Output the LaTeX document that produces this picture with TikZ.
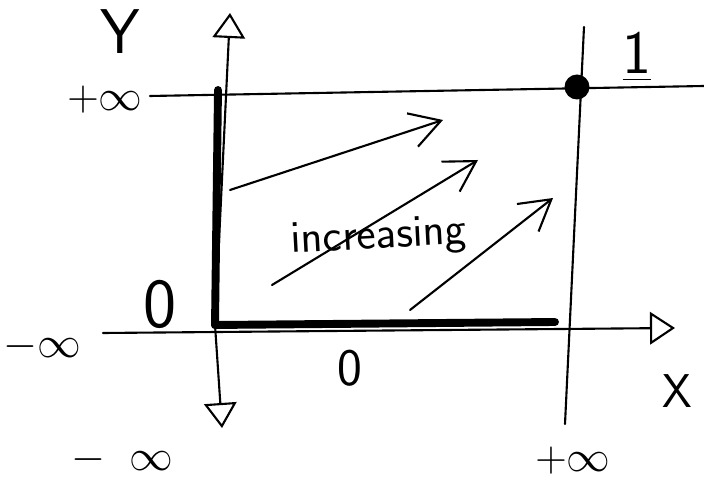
\documentclass[tikz,border=0pt]{standalone}
\usepackage{amsmath}
\usepackage{xcolor}
\usepackage{tikz}
\usetikzlibrary{arrows.meta,positioning}

\begin{document}
\begin{tikzpicture}[
        x=0.02cm, y=-0.02cm,
        pen/.style={draw=black, line width=1.2pt, line cap=round},
        heavy/.style={draw=black, line width=4.5pt, line cap=round},
        axis/.style={pen, -{Triangle[open,length=5mm,width=6.5mm,line width=1.2pt]}},
        trend/.style={pen, -{Straight Barb[length=6mm,width=7mm,line width=1.2pt]}},
        lbl/.style={inner sep=0pt, font=\sffamily}
      ]
        \useasboundingbox (0,0) rectangle (704,482);

        % axes and limits
        \coordinate (origin) at (215,325);
        \coordinate (ytop) at (230,13);
        \coordinate (ybot) at (222,428);
        \coordinate (xleft) at (103,333);
        \coordinate (xright) at (675,328);
        \coordinate (tleft) at (150,96);
        \coordinate (tright) at (704,86);
        \coordinate (rtop) at (584,27);
        \coordinate (rbot) at (565,424);
        \coordinate (corner) at (218,90);
        \coordinate (bend) at (555,322);

        \draw[axis] (origin) -- (ytop);
        \draw[axis] (origin) -- (ybot);
        \draw[axis] (xleft) -- (xright);
        \draw[pen] (tleft) -- (tright);
        \draw[pen] (rtop) -- (rbot);
        \draw[heavy] (origin) -- (corner);
        \draw[heavy] (origin) -- (bend);

        \node[circle, fill=black, inner sep=0pt, minimum size=0.5cm] (top) at (577,87) {};

        % trend arrows
        \coordinate (a1) at (230,190);
        \coordinate (b1) at (443,120);
        \coordinate (a2) at (272,285);
        \coordinate (b2) at (478,160);
        \coordinate (a3) at (410,310);
        \coordinate (b3) at (553,198);
        \draw[trend] (a1) -- (b1);
        \draw[trend] (a2) -- (b2);
        \draw[trend] (a3) -- (b3);

        % labels
        \node[lbl, font=\sffamily\fontsize{36}{38}\selectfont] (ylab) at (120,32) {Y};
        \node[lbl, font=\sffamily\fontsize{27}{30}\selectfont] (xlab) at (677,391) {X};
        \node[lbl, font=\sffamily\fontsize{35}{40}\selectfont] (one) at (637,57) {\underline{1}};
        \node[lbl, font=\fontsize{23}{26}\selectfont] (ypos) at (105,100) {$+\infty$};
        \node[lbl, font=\fontsize{23}{26}\selectfont] (xneg) at (42,347) {$-\infty$};
        \node[lbl, font=\fontsize{23}{26}\selectfont] (yneg) at (122,460) {$-\;\;\infty$};
        \node[lbl, font=\fontsize{23}{26}\selectfont] (xpos) at (573,461) {$+\infty$};
        \node[lbl, font=\sffamily\fontsize{40}{44}\selectfont] (zero) at (160,304) {0};
        \node[lbl, font=\sffamily\fontsize{30}{34}\selectfont] (zerob) at (350,368) {0};
        \node[lbl, font=\sffamily\fontsize{26}{30}\selectfont, rotate=3] (incr) at (379,238) {increasing};
      \end{tikzpicture}
\end{document}
